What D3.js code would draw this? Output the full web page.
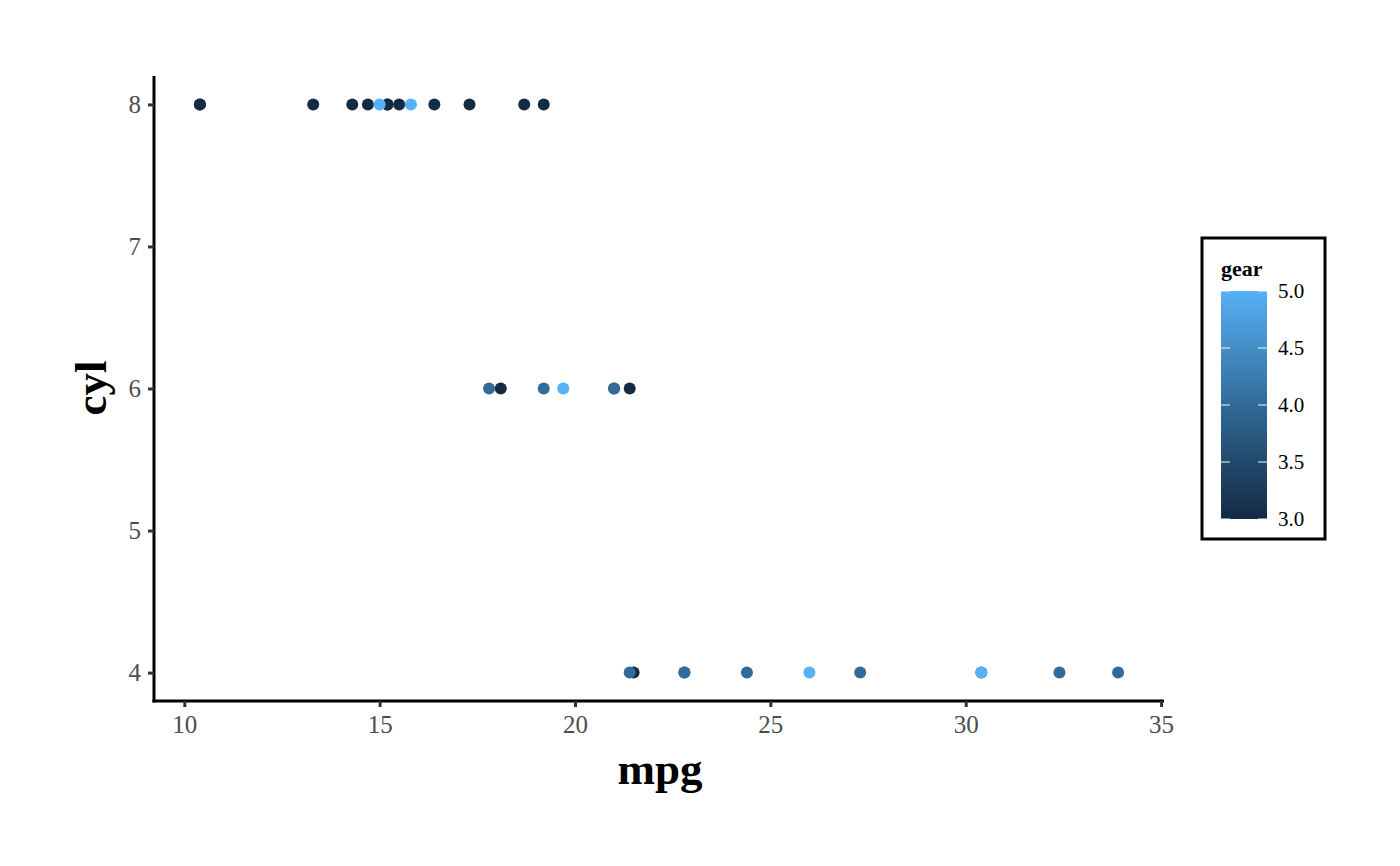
<!DOCTYPE html>
<html>
<head>
<meta charset="utf-8">
<script src="https://cdn.jsdelivr.net/npm/d3@7"></script>
<style>
  body { margin: 0; background: #fff; }
  text { font-family: "Liberation Serif", "Times New Roman", serif; }
</style>
</head>
<body>
<svg id="chart"></svg>
<script>
// mtcars: mpg, cyl, gear
const mpg  = [21.0, 21.0, 22.8, 21.4, 18.7, 18.1, 14.3, 24.4, 22.8, 19.2, 17.8, 16.4, 17.3, 15.2, 10.4, 10.4,
              14.7, 32.4, 30.4, 33.9, 21.5, 15.5, 15.2, 13.3, 19.2, 27.3, 26.0, 30.4, 15.8, 19.7, 15.0, 21.4];
const cyl  = [6, 6, 4, 6, 8, 6, 8, 4, 4, 6, 6, 8, 8, 8, 8, 8, 8, 4, 4, 4, 4, 8, 8, 8, 8, 4, 4, 4, 8, 6, 8, 4];
const gear = [4, 4, 4, 3, 3, 3, 3, 4, 4, 4, 4, 3, 3, 3, 3, 3, 3, 4, 4, 4, 3, 3, 3, 3, 3, 4, 5, 5, 5, 5, 5, 4];
const xTicks = [10, 15, 20, 25, 30, 35];
const yTicks = [4, 5, 6, 7, 8];
const gearTicks = [3.0, 3.5, 4.0, 4.5, 5.0];

const width = 1400, height = 866;
const svg = d3.select("#chart").attr("width", width).attr("height", height);

const pLeft = 154, pRight = 1164, pTop = 76, pBottom = 701;

const x = d3.scaleLinear().domain([9.225, 35.075]).range([pLeft, pRight]);
const y = d3.scaleLinear().domain([3.8, 8.2]).range([pBottom, pTop]);
const color = d3.scaleLinear().domain([3, 5]).range(["#132B43", "#56B1F7"]).interpolate(d3.interpolateLab);

const data = mpg.map((m, i) => ({mpg: m, cyl: cyl[i], gear: gear[i]}));

// points
svg.append("g").selectAll("circle")
  .data(data)
  .enter()
  .append("circle")
  .attr("cx", d => x(d.mpg))
  .attr("cy", d => y(d.cyl))
  .attr("r", 6)
  .attr("fill", d => color(d.gear));

// axes
const xAxis = svg.append("g")
  .attr("transform", `translate(0,${pBottom})`)
  .call(d3.axisBottom(x).tickValues(xTicks).tickFormat(d3.format("d")).tickSize(6).tickPadding(8).tickSizeOuter(0));
const yAxis = svg.append("g")
  .attr("transform", `translate(${pLeft},0)`)
  .call(d3.axisLeft(y).tickValues(yTicks).tickFormat(d3.format("d")).tickSize(6).tickPadding(7).tickSizeOuter(0));

[xAxis, yAxis].forEach(a => {
  a.select(".domain").attr("stroke", "#000").attr("stroke-width", 3);
  a.selectAll(".tick line").attr("stroke", "#333").attr("stroke-width", 3);
  a.selectAll(".tick text").attr("fill", "#4D4D4D").style("font-size", "25px")
    .style("font-family", "'Liberation Serif', serif");
});
// extend domains to meet at the corner
xAxis.select(".domain").attr("d", `M${pLeft - 1.5},0H${pRight}`);
yAxis.select(".domain").attr("d", `M0,${pBottom + 1.5}V${pTop}`);

// axis titles
svg.append("text")
  .attr("x", 660).attr("y", 784)
  .attr("text-anchor", "middle")
  .style("font-size", "45px").style("font-weight", "bold")
  .text("mpg");
svg.append("text")
  .attr("transform", `translate(106,388) rotate(-90)`)
  .attr("text-anchor", "middle")
  .style("font-size", "45px").style("font-weight", "bold")
  .text("cyl");

// legend
const lg = svg.append("g");
lg.append("rect")
  .attr("x", 1202).attr("y", 238).attr("width", 123).attr("height", 301)
  .attr("fill", "#fff").attr("stroke", "#000").attr("stroke-width", 3);
lg.append("text")
  .attr("x", 1221).attr("y", 276)
  .style("font-size", "22px").style("font-weight", "bold")
  .text("gear");

const barX = 1221, barW = 46, barTop = 291, barBottom = 519;
const gy = d3.scaleLinear().domain([3, 5]).range([barBottom, barTop]);

const defs = svg.append("defs");
const grad = defs.append("linearGradient")
  .attr("id", "gearGrad").attr("x1", 0).attr("y1", 1).attr("x2", 0).attr("y2", 0);
d3.range(0, 1.0001, 0.05).forEach(t => {
  grad.append("stop").attr("offset", t).attr("stop-color", color(3 + 2 * t));
});
lg.append("rect")
  .attr("x", barX).attr("y", barTop).attr("width", barW).attr("height", barBottom - barTop)
  .attr("fill", "url(#gearGrad)");

lg.selectAll(".gtick")
  .data(gearTicks)
  .enter()
  .append("g")
  .each(function(d) {
    const g = d3.select(this);
    g.append("line").attr("x1", barX).attr("x2", barX + 9)
      .attr("y1", gy(d)).attr("y2", gy(d)).attr("stroke", "#fff").attr("stroke-width", 1.2).attr("opacity", 0.8);
    g.append("line").attr("x1", barX + barW - 9).attr("x2", barX + barW)
      .attr("y1", gy(d)).attr("y2", gy(d)).attr("stroke", "#fff").attr("stroke-width", 1.2).attr("opacity", 0.8);
  });

lg.selectAll(".glabel")
  .data(gearTicks)
  .enter()
  .append("text")
  .attr("x", 1278).attr("y", d => gy(d))
  .attr("dy", "0.35em")
  .style("font-size", "21px")
  .text(d => d.toFixed(1));
</script>
</body>
</html>
